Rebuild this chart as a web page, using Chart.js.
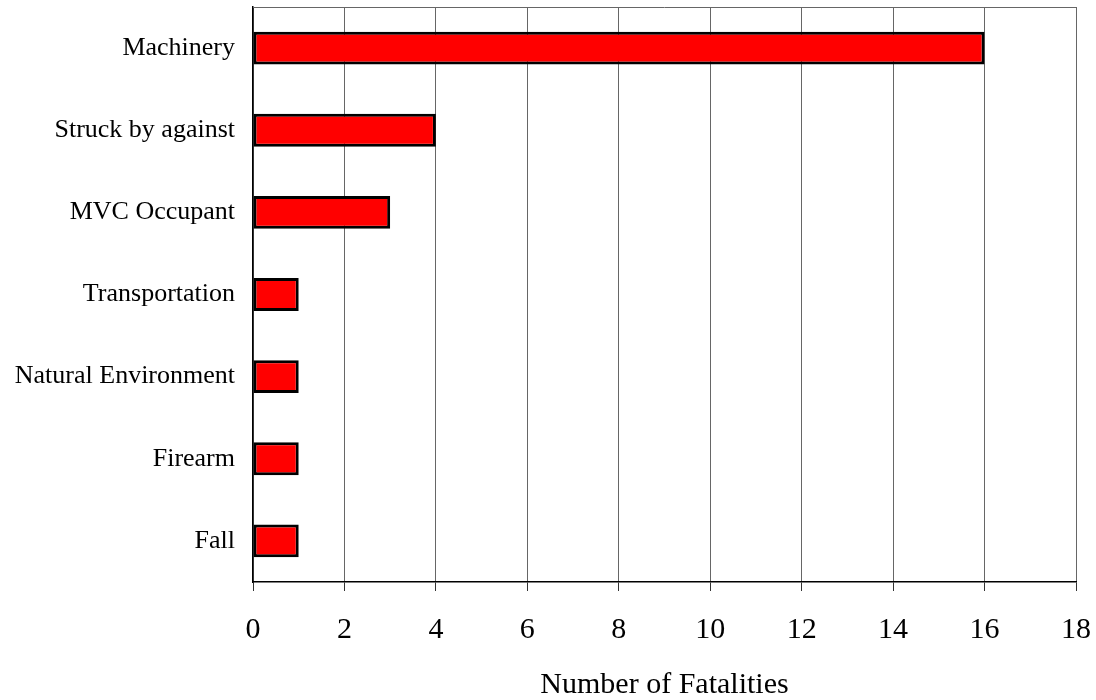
<!DOCTYPE html>
<html>
<head>
<meta charset="utf-8">
<script src="https://cdn.jsdelivr.net/npm/chart.js@4/dist/chart.umd.min.js"></script>
<style>
  html, body { margin: 0; padding: 0; background: #fff; }
  #wrap { width: 1096px; height: 700px; }
</style>
</head>
<body>
<div id="wrap"><canvas id="c" width="1096" height="700"></canvas></div>
<script>
// Fatalities by event type
const categories = ['Machinery', 'Struck by against', 'MVC Occupant', 'Transportation', 'Natural Environment', 'Firearm', 'Fall'];
const fatalities = [16, 4, 3, 1, 1, 1, 1];
const xTicks = [0, 2, 4, 6, 8, 10, 12, 14, 16, 18];
const xTitle = 'Number of Fatalities';

const serif = '"Liberation Serif", "Times New Roman", serif';

// Closes the plot frame along its top edge
const topFrame = {
  id: 'topFrame',
  afterDraw(chart) {
    const { ctx, chartArea: a } = chart;
    ctx.save();
    ctx.strokeStyle = '#666';
    ctx.lineWidth = 1;
    ctx.beginPath();
    ctx.moveTo(a.left, a.top + 0.5);
    ctx.lineTo(a.right, a.top + 0.5);
    ctx.stroke();
    ctx.restore();
  }
};

new Chart(document.getElementById('c'), {
  type: 'bar',
  data: {
    labels: categories,
    datasets: [{
      data: fatalities,
      backgroundColor: '#ff0000',
      borderColor: '#000',
      borderWidth: 3,
      borderSkipped: false,
      categoryPercentage: 1,
      barPercentage: 0.4
    }]
  },
  options: {
    indexAxis: 'y',
    responsive: false,
    animation: false,
    layout: { padding: { top: 7, right: 20, left: 0, bottom: 0 } },
    plugins: { legend: { display: false }, tooltip: { enabled: false } },
    scales: {
      x: {
        min: xTicks[0],
        max: xTicks[xTicks.length - 1],
        afterBuildTicks(scale) { scale.ticks = xTicks.map(v => ({ value: v })); },
        afterFit(scale) {
          scale.height = 118;
          scale.paddingLeft = 0;
          scale.paddingRight = 0;
        },
        grid: { color: '#666', lineWidth: 1, drawTicks: true, tickLength: 9, tickColor: '#333' },
        border: { display: true, color: '#000', width: 1.5 },
        ticks: { color: '#000', padding: 21, font: { family: serif, size: 30 } },
        title: {
          display: true, text: xTitle, color: '#000',
          font: { family: serif, size: 30 }, padding: { top: 0, bottom: -3 }
        }
      },
      y: {
        afterFit(scale) {
          scale.width = 253;
          scale.paddingTop = 0;
          scale.paddingBottom = 0;
        },
        grid: { display: false, drawTicks: false },
        border: { display: true, color: '#000', width: 1.5 },
        ticks: { color: '#000', padding: 18, font: { family: serif, size: 26 } }
      }
    }
  },
  plugins: [topFrame]
});
</script>
</body>
</html>
